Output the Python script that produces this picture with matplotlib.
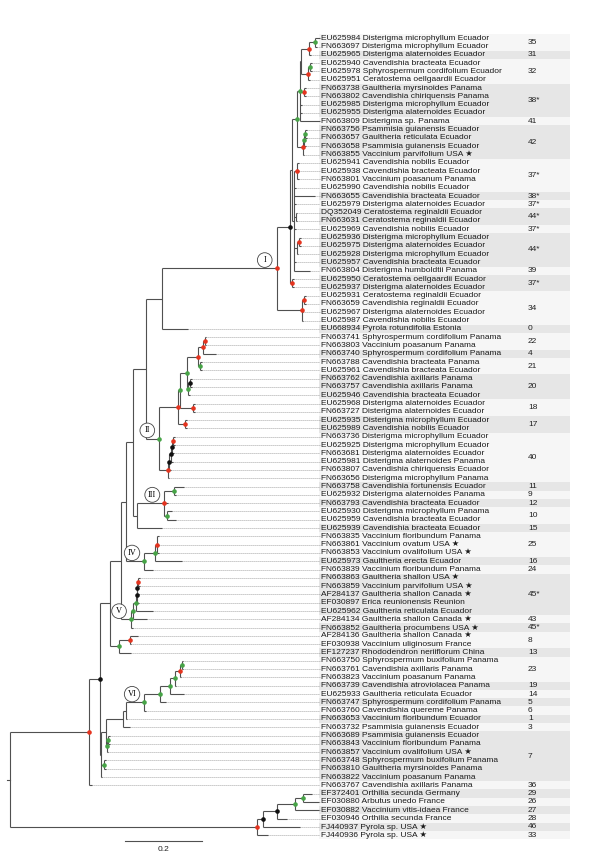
import matplotlib
matplotlib.use('Agg')
import matplotlib.pyplot as plt
from matplotlib.patches import Rectangle

plt.rcParams['font.family'] = ['Liberation Sans', 'DejaVu Sans']

# leaves, top to bottom
accessions = ['EU625984', 'FN663697', 'EU625965', 'EU625940', 'EU625978', 'EU625951', 'FN663738', 'FN663802',
              'EU625985', 'EU625955', 'FN663809', 'FN663756', 'FN663657', 'FN663658', 'FN663855', 'EU625941',
              'EU625938', 'FN663801', 'EU625990', 'FN663655', 'EU625979', 'DQ352049', 'FN663631', 'EU625969',
              'EU625936', 'EU625975', 'EU625928', 'EU625957', 'FN663804', 'EU625950', 'EU625937', 'EU625931',
              'FN663659', 'EU625967', 'EU625987', 'EU668934', 'FN663741', 'FN663803', 'FN663740', 'FN663788',
              'EU625961', 'FN663762', 'FN663757', 'EU625946', 'EU625968', 'FN663727', 'EU625935', 'EU625989',
              'FN663736', 'EU625925', 'FN663681', 'EU625981', 'FN663807', 'FN663656', 'FN663758', 'EU625932',
              'FN663793', 'EU625930', 'EU625959', 'EU625939', 'FN663835', 'FN663861', 'FN663853', 'EU625973',
              'FN663839', 'FN663863', 'FN663859', 'AF284137', 'EF030897', 'EU625962', 'AF284134', 'FN663852',
              'AF284136', 'EF030938', 'EF127237', 'FN663750', 'FN663761', 'FN663823', 'FN663739', 'EU625933',
              'FN663747', 'FN663760', 'FN663653', 'FN663732', 'FN663689', 'FN663843', 'FN663857', 'FN663748',
              'FN663810', 'FN663822', 'FN663767', 'EF372401', 'EF030880', 'EF030882', 'EF030946', 'FJ440937',
              'FJ440936']
species = ['Disterigma microphyllum', 'Disterigma microphyllum', 'Disterigma alaternoides', 'Cavendishia bracteata',
           'Sphyrospermum cordifolium', 'Ceratostema oellgaardii', 'Gaultheria myrsinoides', 'Cavendishia chiriquensis',
           'Disterigma microphyllum', 'Disterigma alaternoides', 'Disterigma sp.', 'Psammisia guianensis',
           'Gaultheria reticulata', 'Psammisia guianensis', 'Vaccinium parvifolium', 'Cavendishia nobilis',
           'Cavendishia bracteata', 'Vaccinium poasanum', 'Cavendishia nobilis', 'Cavendishia bracteata',
           'Disterigma alaternoides', 'Ceratostema reginaldii', 'Ceratostema reginaldii', 'Cavendishia nobilis',
           'Disterigma microphyllum', 'Disterigma alaternoides', 'Disterigma microphyllum', 'Cavendishia bracteata',
           'Disterigma humboldtii', 'Ceratostema oellgaardii', 'Disterigma alaternoides', 'Ceratostema reginaldii',
           'Cavendishia reginaldii', 'Disterigma alaternoides', 'Cavendishia nobilis', 'Pyrola rotundifolia',
           'Sphyrospermum cordifolium', 'Vaccinium poasanum', 'Sphyrospermum cordifolium', 'Cavendishia bracteata',
           'Cavendishia bracteata', 'Cavendishia axillaris', 'Cavendishia axillaris', 'Cavendishia bracteata',
           'Disterigma alaternoides', 'Disterigma alaternoides', 'Disterigma microphyllum', 'Cavendishia nobilis',
           'Disterigma microphyllum', 'Disterigma microphyllum', 'Disterigma alaternoides', 'Disterigma alaternoides',
           'Cavendishia chiriquensis', 'Disterigma microphyllum', 'Cavendishia fortunensis', 'Disterigma alaternoides',
           'Cavendishia bracteata', 'Disterigma microphyllum', 'Cavendishia bracteata', 'Cavendishia bracteata',
           'Vaccinium floribundum', 'Vaccinium ovatum', 'Vaccinium ovalifolium', 'Gaultheria erecta',
           'Vaccinium floribundum', 'Gaultheria shallon', 'Vaccinium parvifolium', 'Gaultheria shallon',
           'Erica reunionensis', 'Gaultheria reticulata', 'Gaultheria shallon', 'Gaultheria procumbens',
           'Gaultheria shallon', 'Vaccinium uliginosum', 'Rhododendron neriiflorum', 'Sphyrospermum buxifolium',
           'Cavendishia axillaris', 'Vaccinium poasanum', 'Cavendishia atroviolacea', 'Gaultheria reticulata',
           'Sphyrospermum cordifolium', 'Cavendishia quereme', 'Vaccinium floribundum', 'Psammisia guianensis',
           'Psammisia guianensis', 'Vaccinium floribundum', 'Vaccinium ovalifolium', 'Sphyrospermum buxifolium',
           'Gaultheria myrsinoides', 'Vaccinium poasanum', 'Cavendishia axillaris', 'Orthilia secunda',
           'Arbutus unedo', 'Vaccinium vitis-idaea', 'Orthilia secunda', 'Pyrola sp.', 'Pyrola sp.']
countries = ['Ecuador'] * 6 + ['Panama', 'Panama', 'Ecuador', 'Ecuador', 'Panama', 'Ecuador', 'Ecuador', 'Ecuador',
             'USA', 'Ecuador', 'Ecuador', 'Panama'] + ['Ecuador'] * 10 + ['Panama'] + ['Ecuador'] * 6 + \
            ['Estonia', 'Panama', 'Panama', 'Panama', 'Panama', 'Ecuador', 'Panama', 'Panama'] + ['Ecuador'] * 8 + \
            ['Panama', 'Ecuador', 'Panama', 'Ecuador', 'Panama', 'Ecuador', 'Panama', 'Ecuador', 'Ecuador',
             'Panama', 'USA', 'USA', 'Ecuador', 'Panama', 'USA', 'USA', 'Canada', 'Reunion', 'Ecuador', 'Canada',
             'USA', 'Canada', 'France', 'China', 'Panama', 'Panama', 'Panama', 'Panama', 'Ecuador', 'Panama',
             'Panama', 'Ecuador', 'Ecuador', 'Ecuador', 'Panama', 'USA', 'Panama', 'Panama', 'Panama', 'Panama',
             'Germany', 'France', 'France', 'France', 'USA', 'USA']
starred = ['FN663855', 'FN663861', 'FN663853', 'FN663863', 'FN663859', 'AF284137', 'AF284134', 'FN663852',
           'AF284136', 'FN663857', 'FJ440937', 'FJ440936']

# haplotype groups (rows per group, top to bottom)
group_sizes = [2, 1, 3, 4, 1, 4, 4, 1, 1, 2, 1, 4, 1, 2, 4, 1, 2, 1, 2, 3, 2, 2, 6, 1, 1, 1, 2, 1, 3, 1, 1,
               5, 1, 1, 2, 1, 3, 1, 1, 1, 1, 1, 1, 6, 1, 1, 1, 1, 1, 1, 1]
group_labels = ['35', '31', '32', '38*', '41', '42', '37*', '38*', '37*', '44*', '37*', '44*', '39', '37*', '34',
                '0', '22', '4', '21', '20', '18', '17', '40', '11', '9', '12', '10', '15', '25', '16', '24', '45*',
                '43', '45*', '8', '13', '23', '19', '14', '5', '6', '1', '3', '7', '36', '29', '26', '27', '28',
                '46', '33']

# newick pieces; node label = support colour (r/g/b) and optional clade name
clade_I = ("((((((((EU625984:0.013,FN663697:0.0052)g:0.0148,EU625965:0.0044)r:0.0216,((EU625940:0.0052,"
           "EU625978:0.0052)g:0.0052,EU625951:0.0052)r:0.0182):0.0026,(FN663738:0.0044,FN663802:0.0044)r:0.0112,"
           "EU625985:0.0052,EU625955:0.0052,FN663809:0.0519)g:0.007,(((FN663756:0.0052,FN663657:0.0052)g:0.0026,"
           "FN663658:0.0052)g:0.0034,FN663855:0.0034)r:0.014)g:0.0138,((EU625941:0.0044,EU625938:0.0044,"
           "FN663801:0.0044)r:0.0086,EU625990:0.0052,FN663655:0.0545,EU625979:0.0052,(DQ352049:0.0039,"
           "FN663631:0.0039):0.0039,EU625969:0.0052,((EU625936:0.0052,EU625975:0.0052)r:0.0065,"
           "EU625928:0.0039):0.0065,EU625957:0.0052,FN663804:0.0416):0.0052):0.0052,(EU625950:0.0052,"
           "EU625937:0.0052)r:0.0052)b:0.0345,((EU625931:0.0044,FN663659:0.0044)r:0.0068,EU625967:0.0034,"
           "EU625987:0.0034)r:0.0649)r/I")
clade_II = ("(((((((FN663741:0.0039,FN663803:0.0039)r:0.0031,FN663740:0.033)r:0.013,(FN663788:0.0052,"
            "EU625961:0.0052)g:0.0044)r:0.0286,((FN663762:0.0052,FN663757:0.0052)b:0.0044,EU625946:0.0044)g:0.0026)"
            "g:0.019,(EU625968:0.0044,FN663727:0.0044)r:0.0345)g:0.0044,(EU625935:0.0052,EU625989:0.0052)r:0.0174)"
            "r:0.0494,(((((FN663736:0.006,EU625925:0.006)r:0.0023,FN663681:0.0057)b:0.0021,EU625981:0.0052)b:0.0044,"
            "FN663807:0.0044)b:0.0042,FN663656:0.0034)r:0.0218)g/II")
clade_III = "((FN663758:0.026,EU625932:0.0052)g:0.0252,FN663793:0.0096,(EU625930:0.0122,EU625959:0.0226)g:0.0078)r/III"
clade_IV = "(((FN663835:0.0044,FN663861:0.0044,FN663853:0.0044)r:0.006,EU625973:0.0694)g:0.0286,FN663839:0.0226)g/IV"
clade_V = ("((((((FN663863:0.0062,FN663859:0.0062)r:0.001,AF284137:0.0047)b:0.001,EF030897:0.0057)b:0.0029,"
           "EU625962:0.0449)g:0.0062,AF284134:0.0348)g:0.006,FN663852:0.0052)g/V")
clade_VI = ("((((((((FN663750:0.0039,FN663761:0.0039)g:0.0039,FN663823:0.0026)r:0.013,FN663739:0.0026)g:0.013,"
            "EU625933:0.0364)g:0.026,FN663747:0.0156)g:0.0416,FN663760:0.0052)g/VI:0.0468,FN663653:0.0026):0.0086,"
            "FN663732:0.019)")
outgroup = ("(((((EF372401:0.0234,EF030880:0.0416)g:0.0208,EF030882:0.0623)g:0.0468,EF030946:0.026)b:0.0356,"
            "FJ440937:0.0953)b:0.0156,FJ440936:0.0278)r")
backbone = ("((((((((({I}:0.2987,EU668934:0.0683):0.0408,{II}:0.0345):0.033,({III}:0.0717,EU625939:0.0649)"
            ":0.0088):0.0197,{IV}:0.0475):0.0122,{V}:0.026):0.0286,((AF284136:0.0208,EF030938:0.0026)r:0.0286,"
            "EF127237:0.0312)g:0.0234):0.026,(({VI}:0.0447,((FN663689:0.0044,FN663843:0.0044)g:0.0042,"
            "FN663857:0.0034)g:0.0031):0.0117,(FN663748:0.0044,FN663810:0.0044)g:0.0086,FN663822:0.0026)"
            ":0.0026)b:0.0278,FN663767:0.007)r:0.206,{OUT}:0.6423):0.0078;")
tree_newick = backbone.format(I=clade_I, II=clade_II, III=clade_III, IV=clade_IV, V=clade_V, VI=clade_VI,
                              OUT=outgroup)


def parse(s):
    pos = 0

    def node():
        nonlocal pos
        n = {'children': [], 'name': '', 'len': 0.0}
        if s[pos] == '(':
            pos += 1
            n['children'].append(node())
            while s[pos] == ',':
                pos += 1
                n['children'].append(node())
            pos += 1
        start = pos
        while s[pos] not in ':,);':
            pos += 1
        n['name'] = s[start:pos]
        if s[pos] == ':':
            pos += 1
            start = pos
            while s[pos] not in ',);':
                pos += 1
            n['len'] = float(s[start:pos])
        return n
    return node()


root = parse(tree_newick)
leaf_y = {a: i + 1 for i, a in enumerate(accessions)}
order = []


def layout(n, x):
    n['x'] = x
    if n['children']:
        for c in n['children']:
            layout(c, x + c['len'])
        n['y'] = (n['children'][0]['y'] + n['children'][-1]['y']) / 2
    else:
        order.append(n['name'])
        n['y'] = leaf_y[n['name']]


layout(root, 0.0)
assert order == accessions

fig = plt.figure(figsize=(6.12, 8.65), dpi=100)
ax = fig.add_axes([0, 0, 1, 1])
ax.set_xlim(-10 / 385, 602 / 385)
ax.set_ylim(100.6, -3.614)
ax.axis('off')

label_x = 0.809
num_x = 1.3455
band_x0, band_x1 = 0.8025, 1.4545
line_col = '#505050'
dot_cols = {'r': '#e5341f', 'g': '#47a447', 'b': '#111111'}

# background bands
start = 1
for k, (size, lab) in enumerate(zip(group_sizes, group_labels)):
    col = '#f6f6f6' if k % 2 == 0 else '#e6e6e6'
    ax.add_patch(Rectangle((band_x0, start - 0.5), band_x1 - band_x0, size, fc=col, ec='none', zorder=0))
    ax.text(num_x, start + (size - 1) / 2, lab, fontsize=6, va='center', ha='left', color='#222222', zorder=3)
    start += size

dots = []
circles = []


def draw(n):
    if n['children']:
        ch = n['children']
        ax.plot([n['x'], n['x']], [ch[0]['y'], ch[-1]['y']], color=line_col, lw=0.8, zorder=2,
                solid_capstyle='butt')
        for c in ch:
            ax.plot([n['x'], c['x']], [c['y'], c['y']], color=line_col, lw=0.8, zorder=2, solid_capstyle='butt')
            draw(c)
        lab = n['name']
        if lab[:1] in dot_cols:
            dots.append((n['x'], n['y'], dot_cols[lab[0]]))
        if '/' in lab:
            circles.append((n['x'], n['y'], lab.split('/')[1]))
    else:
        if n['x'] < label_x - 0.004:
            ax.plot([n['x'], label_x - 0.003], [n['y'], n['y']], color='#8a8a8a', lw=0.6,
                    ls=(0, (1, 1.4)), zorder=1)


draw(root)
ax.plot([-root['len'], 0], [root['y'], root['y']], color=line_col, lw=0.8, zorder=2)

for x, y, c in dots:
    ax.plot(x, y, 'o', ms=3.3, color=c, mec='none', zorder=4)

for x, y, name in circles:
    ax.text(x - 12 / 385, y - 1.0, name, family='Liberation Serif', fontsize=6, ha='center', va='center',
            zorder=5, bbox=dict(boxstyle='circle,pad=0.4', fc='white', ec='#444444', lw=0.6))

for a, sp, co in zip(accessions, species, countries):
    txt = a + ' ' + sp + ' ' + co
    if a in starred:
        txt += ' \u2605'
    ax.text(label_x, leaf_y[a], txt, fontsize=6, va='center', ha='left', color='#1a1a1a', zorder=3)

# scale bar
sb_x = (125 - 10) / 385
ax.plot([sb_x, sb_x + 0.2], [97.72, 97.72], color=line_col, lw=0.8)
ax.text(sb_x + 0.1, 98.75, '0.2', fontsize=6, ha='center', va='center', color='#222222')

fig.savefig('out.png', dpi=100)
